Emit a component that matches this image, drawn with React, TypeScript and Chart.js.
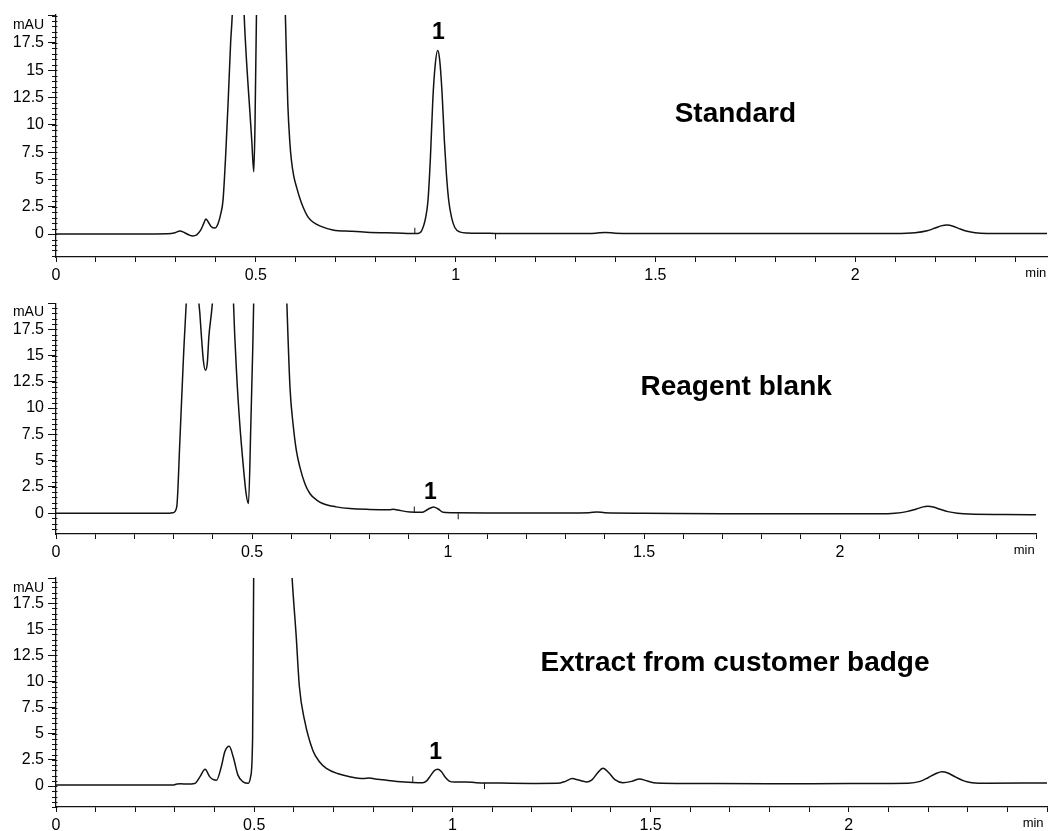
import React, { useEffect, useRef } from 'react';
import { Chart, registerables } from 'chart.js';

Chart.register(...registerables);

type Pt = [number, number];

// ---- Data (time in min, signal in mAU) ----
const standardTrace: Pt[] = [
  [0, 0], [0.1, 0], [0.2, 0], [0.28, 0.02], [0.298, 0.12], [0.31, 0.28], [0.322, 0.12], [0.333, -0.08],
  [0.342, -0.17], [0.352, -0.08], [0.362, 0.35], [0.37, 1.0], [0.375, 1.37], [0.381, 1.1], [0.388, 0.7],
  [0.3975, 0.55], [0.405, 0.9], [0.412, 1.8], [0.418, 3.1], [0.425, 7.5], [0.431, 12.3], [0.437, 17.5],
  [0.442, 21], [0.456, 45], [0.47, 21], [0.475, 17], [0.48, 14], [0.485, 11.3], [0.49, 8.5], [0.495, 5.7],
  [0.498, 10], [0.502, 21], [0.535, 65], [0.574, 20], [0.58, 12], [0.585, 8.5], [0.589, 6.8], [0.595, 5.3],
  [0.602, 4.3], [0.61, 3.3], [0.618, 2.5], [0.63, 1.6], [0.643, 1.1], [0.66, 0.75], [0.693, 0.38],
  [0.74, 0.25], [0.777, 0.17], [0.85, 0.1], [0.905, 0.05], [0.915, 0.3], [0.925, 1.5], [0.931, 3.1],
  [0.937, 7], [0.943, 12.3], [0.949, 15.5], [0.955, 16.8], [0.96, 16.0], [0.966, 13], [0.972, 8.5],
  [0.977, 5.5], [0.983, 3.0], [0.99, 1.5], [0.998, 0.6], [1.01, 0.2], [1.03, 0.1], [1.1, 0.06], [1.2, 0.05],
  [1.3, 0.05], [1.35, 0.08], [1.375, 0.15], [1.4, 0.08], [1.5, 0.05], [1.7, 0.05], [1.9, 0.05], [2.1, 0.05],
  [2.15, 0.12], [2.18, 0.3], [2.2, 0.55], [2.215, 0.75], [2.23, 0.82], [2.245, 0.72], [2.26, 0.5],
  [2.28, 0.25], [2.3, 0.12], [2.33, 0.06], [2.4, 0.05], [2.48, 0.05],
];

const blankTrace: Pt[] = [
  [0, 0], [0.1, 0], [0.2, 0], [0.29, 0], [0.299, 0.05], [0.308, 0.6], [0.316, 6.9], [0.325, 14.7],
  [0.337, 24], [0.35, 40], [0.363, 21], [0.367, 19], [0.371, 16.8], [0.376, 14.5], [0.381, 13.6],
  [0.386, 14.3], [0.39, 16.8], [0.398, 19.6], [0.406, 24], [0.43, 60], [0.452, 21], [0.461, 13.1],
  [0.469, 8.4], [0.478, 4.4], [0.485, 1.85], [0.491, 0.91], [0.497, 8.4], [0.502, 15.8], [0.507, 25],
  [0.545, 70], [0.588, 21], [0.597, 11.9], [0.605, 8.4], [0.613, 6.0], [0.622, 4.4], [0.635, 2.8],
  [0.648, 1.85], [0.665, 1.25], [0.682, 0.9], [0.715, 0.6], [0.75, 0.44], [0.8, 0.36], [0.85, 0.33],
  [0.861, 0.38], [0.872, 0.3], [0.903, 0.12], [0.935, 0.1], [0.948, 0.35], [0.963, 0.6], [0.975, 0.4],
  [0.988, 0.08], [1.02, 0.03], [1.1, 0.02], [1.3, 0.02], [1.36, 0.04], [1.38, 0.12], [1.4, 0.04],
  [1.5, 0], [1.7, -0.05], [1.9, -0.05], [2.1, -0.05], [2.14, 0], [2.17, 0.15], [2.195, 0.4],
  [2.212, 0.6], [2.224, 0.65], [2.238, 0.58], [2.255, 0.38], [2.275, 0.15], [2.3, 0], [2.33, -0.08],
  [2.42, -0.12], [2.5, -0.15],
];

const extractTrace: Pt[] = [
  [0, 0.1], [0.1, 0.1], [0.2, 0.1], [0.295, 0.1], [0.305, 0.2], [0.315, 0.22], [0.33, 0.2], [0.35, 0.25],
  [0.363, 0.88], [0.376, 1.6], [0.388, 0.88], [0.398, 0.6], [0.405, 0.57], [0.417, 1.85], [0.426, 3.3],
  [0.437, 3.8], [0.447, 2.8], [0.459, 1.05], [0.472, 0.4], [0.485, 0.26], [0.491, 0.9], [0.496, 4.7],
  [0.499, 22], [0.54, 70], [0.594, 21], [0.606, 14.3], [0.614, 9.5], [0.627, 6.3], [0.648, 3.4],
  [0.665, 2.3], [0.682, 1.7], [0.71, 1.2], [0.741, 0.9], [0.775, 0.72], [0.791, 0.78], [0.805, 0.68],
  [0.825, 0.6], [0.86, 0.45], [0.9, 0.35], [0.925, 0.32], [0.935, 0.5], [0.945, 1.0], [0.954, 1.45],
  [0.963, 1.6], [0.972, 1.4], [0.982, 0.85], [0.992, 0.48], [1.005, 0.38], [1.034, 0.4], [1.06, 0.33],
  [1.1, 0.3], [1.2, 0.25], [1.265, 0.26], [1.285, 0.45], [1.302, 0.72], [1.318, 0.58], [1.338, 0.4],
  [1.352, 0.6], [1.366, 1.25], [1.38, 1.7], [1.394, 1.3], [1.41, 0.62], [1.43, 0.33], [1.452, 0.45],
  [1.472, 0.68], [1.492, 0.48], [1.515, 0.3], [1.6, 0.25], [1.8, 0.22], [2.0, 0.25], [2.15, 0.28],
  [2.18, 0.45], [2.2, 0.8], [2.22, 1.2], [2.235, 1.37], [2.25, 1.25], [2.27, 0.85], [2.29, 0.5],
  [2.31, 0.33], [2.35, 0.28], [2.5, 0.3],
];

// integration event marks [time, centre value]
const standardMarks: Pt[] = [[0.898, 0.3], [1.1, -0.2]];
const blankMarks: Pt[] = [[0.914, 0.35], [1.026, -0.3]];
const extractMarks: Pt[] = [[0.9, 0.65], [1.081, 0.0]];

const yMajorTicks = [0, 2.5, 5, 7.5, 10, 12.5, 15, 17.5];
const xLabelTicks = [0, 0.5, 1, 1.5, 2];
const panelTitles = ['Standard', 'Reagent blank', 'Extract from customer badge'];
const peakName = '1';
const yUnit = 'mAU';
const xUnit = 'min';

const FONT = "'Liberation Sans', Arial, Helvetica, sans-serif";
const INK = '#121212';

interface PanelSpec {
  top: number;
  height: number;
  padTop: number;
  axisHeight: number;
  pxPerMin: number;
  xMax: number;
  yMin: number;
  yMax: number;
  unitXPos: number;
  unitYPos: number;
  trace: Pt[];
  marks: Pt[];
  title: string;
  titlePos: Pt;
  peakPos: Pt;
}

const panels: PanelSpec[] = [
  {
    top: 0, height: 290, padTop: 15, axisHeight: 33, pxPerMin: 400, xMax: 2.48, yMin: -2.1, yMax: 20.05,
    unitXPos: 2.452, unitYPos: 19.1, trace: standardTrace, marks: standardMarks,
    title: panelTitles[0], titlePos: [1.7, 10.93], peakPos: [0.957, 18.45],
  },
  {
    top: 290, height: 270, padTop: 11, axisHeight: 26, pxPerMin: 392, xMax: 2.5, yMin: -1.98, yMax: 19.94,
    unitXPos: 2.47, unitYPos: 19.1, trace: blankTrace, marks: blankMarks,
    title: panelTitles[1], titlePos: [1.735, 11.95], peakPos: [0.955, 1.95],
  },
  {
    top: 560, height: 271, padTop: 18, axisHeight: 24, pxPerMin: 397, xMax: 2.5, yMin: -2.0, yMax: 19.9,
    unitXPos: 2.465, unitYPos: 18.9, trace: extractTrace, marks: extractMarks,
    title: panelTitles[2], titlePos: [1.713, 11.76], peakPos: [0.958, 3.15],
  },
];

const WIDTH = 1052;
const AXIS_LEFT = 56;

function Panel({ spec }: { spec: PanelSpec }) {
  const ref = useRef<HTMLCanvasElement>(null);

  useEffect(() => {
    const canvas = ref.current;
    if (!canvas) return;

    const decor = {
      id: 'decor',
      afterDraw(chart: any) {
        const { ctx, chartArea } = chart;
        const xs = chart.scales.x;
        const ys = chart.scales.y;
        ctx.save();
        ctx.strokeStyle = INK;
        ctx.lineWidth = 1;
        for (let i = Math.ceil(spec.yMin * 2); i <= Math.floor(spec.yMax * 2); i++) {
          const py = Math.round(ys.getPixelForValue(i / 2)) + 0.5;
          ctx.beginPath();
          ctx.moveTo(chartArea.left - 4, py);
          ctx.lineTo(chartArea.left + 1.5, py);
          ctx.stroke();
        }
        ctx.fillStyle = '#000';
        ctx.textAlign = 'center';
        ctx.textBaseline = 'middle';
        ctx.font = `bold 28px ${FONT}`;
        ctx.fillText(spec.title, xs.getPixelForValue(spec.titlePos[0]), ys.getPixelForValue(spec.titlePos[1]));
        ctx.font = `bold 23px ${FONT}`;
        ctx.fillText(peakName, xs.getPixelForValue(spec.peakPos[0]), ys.getPixelForValue(spec.peakPos[1]));
        ctx.restore();
      },
    };

    const isXLabel = (v: number) => xLabelTicks.some((t) => Math.abs(t - v) < 1e-6);
    const rightPad = WIDTH - AXIS_LEFT - spec.xMax * spec.pxPerMin;

    const chart = new Chart(canvas, {
      type: 'line',
      data: {
        datasets: [
          {
            data: spec.trace.map(([x, y]) => ({ x, y })),
            borderColor: INK,
            borderWidth: 1.5,
            pointRadius: 0,
            fill: false,
            cubicInterpolationMode: 'monotone',
          } as any,
          {
            data: spec.marks.map(([x, y]) => ({ x, y })),
            showLine: false,
            pointStyle: 'line',
            pointRotation: 90,
            pointRadius: 3,
            borderColor: INK,
            borderWidth: 1,
            backgroundColor: INK,
          } as any,
        ],
      },
      options: {
        animation: false,
        responsive: false,
        maintainAspectRatio: false,
        events: [],
        layout: { padding: { top: spec.padTop, left: 0, right: rightPad, bottom: 0 } },
        plugins: { legend: { display: false }, tooltip: { enabled: false } },
        scales: {
          x: {
            type: 'linear',
            min: 0,
            max: spec.xMax,
            afterBuildTicks: (s: any) => {
              const t: any[] = [];
              for (let i = 0; i <= Math.floor(spec.xMax * 10 + 1e-6); i++) t.push({ value: i / 10 });
              t.push({ value: spec.unitXPos });
              t.sort((a, b) => a.value - b.value);
              s.ticks = t;
            },
            afterFit: (s: any) => {
              s.height = spec.axisHeight;
            },
            ticks: {
              autoSkip: false,
              maxRotation: 0,
              minRotation: 0,
              padding: 4,
              color: '#000',
              font: (c: any) =>
                c.tick && Math.abs(c.tick.value - spec.unitXPos) < 1e-6
                  ? { family: FONT, size: 13 }
                  : { family: FONT, size: 16 },
              callback: (v: any) => {
                const n = Number(v);
                if (Math.abs(n - spec.unitXPos) < 1e-6) return xUnit;
                return isXLabel(n) ? String(Math.round(n * 10) / 10) : '';
              },
            },
            grid: {
              drawOnChartArea: false,
              drawTicks: true,
              tickLength: 5,
              tickWidth: 1,
              tickColor: (c: any) =>
                c.tick && Math.abs(c.tick.value - spec.unitXPos) < 1e-6 ? 'rgba(0,0,0,0)' : INK,
            },
            border: { display: true, color: INK, width: 1.3 },
          },
          y: {
            type: 'linear',
            min: spec.yMin,
            max: spec.yMax,
            afterBuildTicks: (s: any) => {
              const t = yMajorTicks.map((v) => ({ value: v }));
              t.push({ value: spec.unitYPos });
              t.push({ value: spec.yMax });
              s.ticks = t;
            },
            afterFit: (s: any) => {
              s.width = AXIS_LEFT;
            },
            ticks: {
              autoSkip: false,
              padding: 4,
              color: '#000',
              font: (c: any) =>
                c.tick && Math.abs(c.tick.value - spec.unitYPos) < 1e-6
                  ? { family: FONT, size: 14 }
                  : { family: FONT, size: 16 },
              callback: (v: any) => {
                const n = Number(v);
                if (Math.abs(n - spec.unitYPos) < 1e-6) return yUnit;
                if (yMajorTicks.some((t) => Math.abs(t - n) < 1e-6)) return String(n);
                return '';
              },
            },
            grid: {
              drawOnChartArea: false,
              drawTicks: true,
              tickLength: 8,
              tickWidth: 1,
              tickColor: (c: any) =>
                c.tick && Math.abs(c.tick.value - spec.unitYPos) < 1e-6 ? 'rgba(0,0,0,0)' : INK,
            },
            border: { display: true, color: INK, width: 1.3 },
          },
        },
      } as any,
      plugins: [decor],
    });

    return () => chart.destroy();
  }, [spec]);

  return (
    <canvas
      ref={ref}
      width={WIDTH}
      height={spec.height}
      style={{ position: 'absolute', left: 0, top: spec.top, width: WIDTH, height: spec.height }}
    />
  );
}

export default function App() {
  return (
    <div style={{ position: 'absolute', left: 0, top: 0, width: WIDTH, height: 831, background: '#fff' }}>
      {panels.map((p, i) => (
        <Panel key={i} spec={p} />
      ))}
    </div>
  );
}
